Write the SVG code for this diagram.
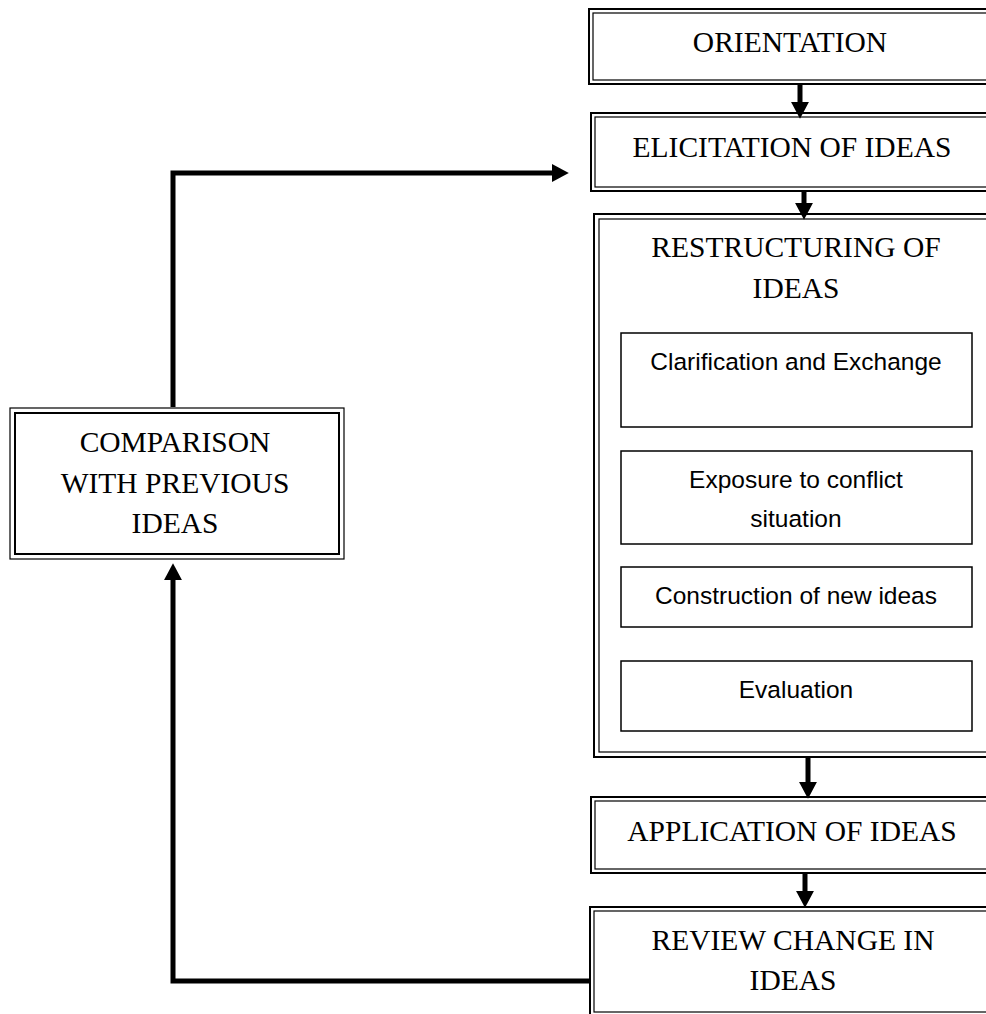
<svg xmlns="http://www.w3.org/2000/svg" width="986" height="1014" viewBox="0 0 986 1014">
<style>
.bg{fill:#fff}
.o{fill:none;stroke:#000;stroke-width:2}
.i{fill:none;stroke:#000;stroke-width:1.2}
.oc{fill:none;stroke:#000;stroke-width:1.2}
.ic{fill:none;stroke:#000;stroke-width:2}
.sb{fill:#fff;stroke:#000;stroke-width:1.5}
.t{font-family:"Liberation Serif","Times New Roman",serif;font-size:29.5px;fill:#000;text-anchor:middle}
.s{font-family:"Liberation Sans",Arial,sans-serif;font-size:24.5px;fill:#000;text-anchor:middle}
.c{fill:none;stroke:#000;stroke-width:5}
</style>
<defs>
<marker id="ah" markerUnits="userSpaceOnUse" markerWidth="17" markerHeight="18" refX="2" refY="8.5" orient="auto" viewBox="0 0 16 17">
<path d="M0,0 L16,8.5 L0,17 z" fill="#000"/>
</marker>
</defs>
<rect width="986" height="1014" class="bg"/>
<g id="orientation">
<rect x="589" y="9" width="420" height="75" class="o"/>
<rect x="593" y="13" width="420" height="67" class="i"/>
<text x="790" y="52" class="t">ORIENTATION</text>
</g>
<g id="elicitation">
<rect x="591" y="113" width="420" height="78" class="o"/>
<rect x="595" y="117" width="420" height="70" class="i"/>
<text x="792" y="157" class="t">ELICITATION OF IDEAS</text>
</g>
<g id="restructuring">
<rect x="594" y="214" width="420" height="543" class="o"/>
<rect x="599" y="219" width="420" height="533" class="i"/>
<text x="796" y="257" class="t">RESTRUCTURING OF</text>
<text x="796" y="298" class="t">IDEAS</text>
</g>
<g id="clarification">
<rect x="621" y="333" width="351" height="94" class="sb"/>
<text x="796" y="370" class="s">Clarification and Exchange</text>
</g>
<g id="exposure">
<rect x="621" y="451" width="351" height="93" class="sb"/>
<text x="796" y="488" class="s">Exposure to conflict</text>
<text x="796" y="527" class="s">situation</text>
</g>
<g id="construction">
<rect x="621" y="567" width="351" height="60" class="sb"/>
<text x="796" y="604" class="s">Construction of new ideas</text>
</g>
<g id="evaluation">
<rect x="621" y="661" width="351" height="70" class="sb"/>
<text x="796" y="698" class="s">Evaluation</text>
</g>
<g id="application">
<rect x="591" y="797" width="420" height="76" class="o"/>
<rect x="595" y="801" width="420" height="68" class="i"/>
<text x="792" y="841" class="t">APPLICATION OF IDEAS</text>
</g>
<g id="review">
<rect x="590" y="907" width="420" height="130" class="o"/>
<rect x="594" y="911" width="420" height="101" class="i"/>
<text x="793" y="950" class="t">REVIEW CHANGE IN</text>
<text x="793" y="990" class="t">IDEAS</text>
</g>
<g id="comparison">
<rect x="10" y="408" width="334" height="151" class="oc"/>
<rect x="15" y="413" width="324" height="141" class="ic"/>
<text x="175" y="452" class="t">COMPARISON</text>
<text x="175" y="493" class="t">WITH PREVIOUS</text>
<text x="175" y="533" class="t">IDEAS</text>
</g>
<g id="connectors">
<path d="M800,85 V104" class="c" marker-end="url(#ah)"/>
<path d="M804,192 V205" class="c" marker-end="url(#ah)"/>
<path d="M808,758 V784" class="c" marker-end="url(#ah)"/>
<path d="M805,874 V893" class="c" marker-end="url(#ah)"/>
<path d="M591,981 H173 V578" class="c" marker-end="url(#ah)"/>
<path d="M173,407 V173 H554" class="c" marker-end="url(#ah)"/>
</g>
</svg>
